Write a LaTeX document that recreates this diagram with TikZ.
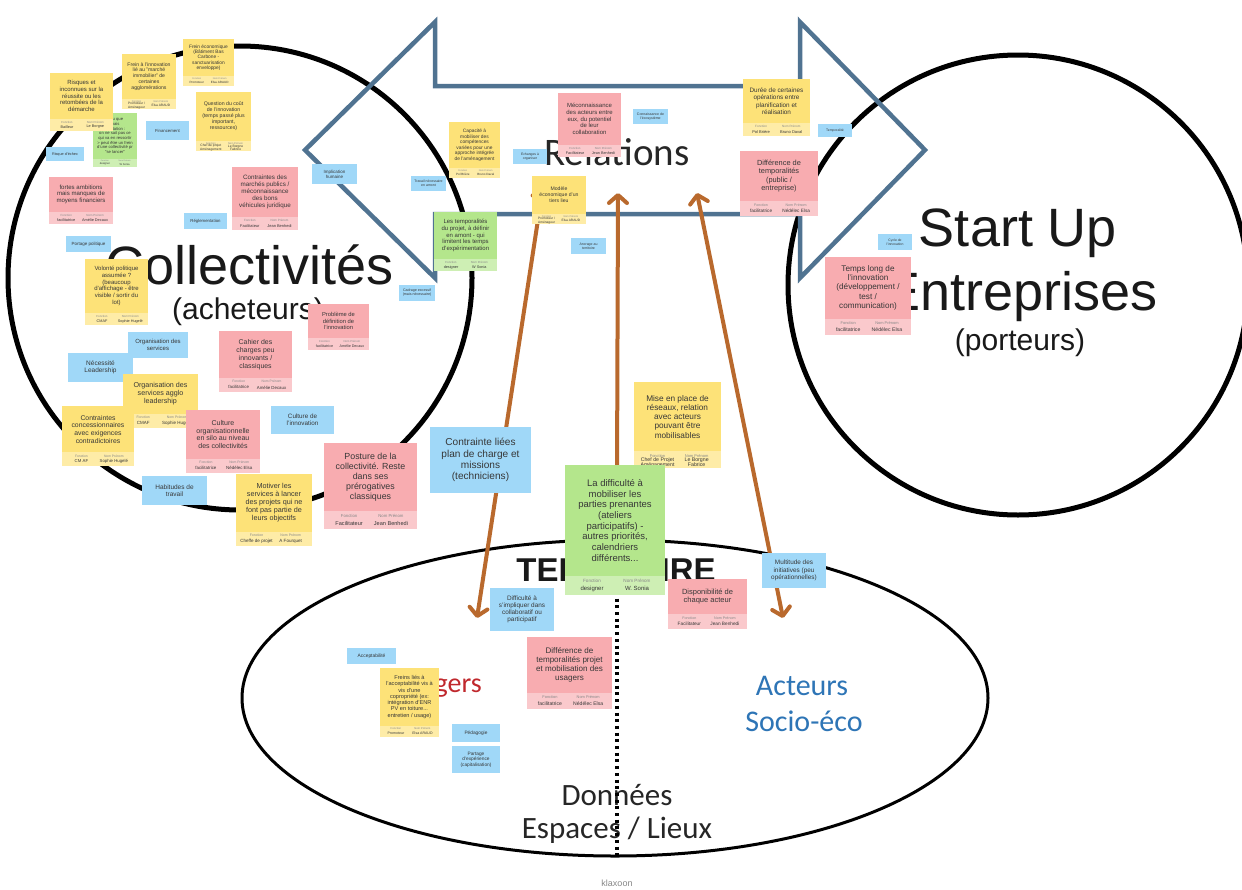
\documentclass[tikz,border=0pt]{standalone}
\usepackage{fontspec}
\setmainfont{Liberation Sans}
\newfontfamily\calibri{Carlito}
\usetikzlibrary{positioning}
\usetikzlibrary{shapes.geometric}
\usetikzlibrary{arrows.meta}

\definecolor{jaune}{RGB}{253,226,120}
\definecolor{rose}{RGB}{248,172,176}
\definecolor{vert}{RGB}{180,230,140}
\definecolor{bleu}{RGB}{160,216,248}
\definecolor{relcol}{RGB}{80,115,145}
\definecolor{brun}{RGB}{185,105,45}
\definecolor{texte}{RGB}{55,55,55}
\definecolor{gris}{RGB}{135,135,135}
\definecolor{rouge}{RGB}{192,40,45}
\definecolor{bleuact}{RGB}{46,117,182}

% post-it : nom, x, y, largeur, hauteur, couleur, texte, fonction, nom
\newcommand{\postit}[9]{%
  \pgfmathsetmacro\ptfs{0.095*#4}\pgfmathsetmacro\ptbs{1.12*\ptfs}%
  \pgfmathsetmacro\ptph{0.19*#4}%
  \pgfmathsetmacro\ptx{#2+0.5*#4}\pgfmathsetmacro\pty{#3+0.5*(#5-\ptph)}%
  \pgfmathsetmacro\ptxa{#2+0.27*#4}\pgfmathsetmacro\ptxb{#2+0.72*#4}%
  \pgfmathsetmacro\ptya{#3+#5-0.74*\ptph}\pgfmathsetmacro\ptyb{#3+#5-0.33*\ptph}%
  \pgfmathsetmacro\ptfl{0.046*#4}\pgfmathsetmacro\ptfv{0.06*#4}%
  \node[postit,fill=#6,minimum width=#4pt,minimum height=#5pt](#1) at (#2,#3){};
  \fill[#6!65!white] (#1.south west) rectangle ([yshift=\ptph pt]#1.south east);
  \node[postittexte,font=\fontsize{\ptfs}{\ptbs}\selectfont](#1-t) at (\ptx,\pty){#7};
  \node[libelle,font=\fontsize{\ptfl}{\ptfl}\selectfont](#1-f) at (\ptxa,\ptya){Fonction};
  \node[libelle,font=\fontsize{\ptfl}{\ptfl}\selectfont](#1-n) at (\ptxb,\ptya){Nom Prénom};
  \node[valeur,font=\fontsize{\ptfv}{\ptfv}\selectfont](#1-fv) at (\ptxa,\ptyb){#8};
  \node[valeur,font=\fontsize{\ptfv}{\ptfv}\selectfont](#1-nv) at (\ptxb,\ptyb){#9};
}
% etiquette bleue : nom, x, y, largeur, hauteur, texte
\newcommand{\etiquette}[6]{%
  \pgfmathsetmacro\ptfs{0.1*#4}\pgfmathsetmacro\ptbs{1.12*\ptfs}%
  \node[etiq,minimum width=#4pt,minimum height=#5pt,font=\fontsize{\ptfs}{\ptbs}\selectfont](#1) at (#2,#3){#6};
}

\begin{document}
\begin{tikzpicture}[x=1pt,y=-1pt,
>={Straight Barb[length=8pt,width=18pt,round]},
contour/.style={draw=relcol,line width=4.5pt,line join=miter},
bulle/.style={draw=black,line width=5pt,circle,inner sep=0pt},
fleche/.style={draw=brun,line width=4pt},
pointille/.style={draw=black,line width=3.5pt,dash pattern=on 3pt off 3.7pt},
titre/.style={font=\fontsize{54}{60}\selectfont,text=black!90,inner sep=0pt},
soustitre/.style={font=\fontsize{30}{34}\selectfont,text=black!90,inner sep=0pt},
calib/.style={font=\calibri\fontsize{#1}{#1}\selectfont,text=black!85,inner sep=0pt},
postit/.style={anchor=north west,inner sep=0pt,outer sep=0pt},
postittexte/.style={align=center,text=texte,inner sep=0pt},
libelle/.style={text=gris,inner sep=0pt},
valeur/.style={text=texte,align=center,inner sep=0pt},
etiq/.style={anchor=north west,fill=bleu,align=center,text=texte,inner sep=1pt,outer sep=0pt}
]
\fill[white] (0,0) rectangle (1242,889);
\useasboundingbox (0,0) rectangle (1242,889);
%--
\node[bulle,minimum size=464pt](collectivites) at (240,278){};
\node[bulle,minimum size=460pt](startup) at (1018,285){};
\node[draw,ellipse,line width=3pt,inner sep=0pt,minimum width=746pt,minimum height=316pt](territoire) at (615,698){};
\draw[contour] (305,150) -- (435,22) -- (435,86) -- (800,86) -- (800,22) -- (925,150)
  -- (800,278) -- (800,214) -- (435,214) -- (435,278) -- cycle;
%--
\node[titre](t-coll) at (250,265){Collectivités};
\node[soustitre](t-ach) at (248,312){(acheteurs)};
\node[titre](t-start) at (1018,233){Start Up};
\node[titre](t-entr) at (1021,297){Entreprises};
\node[soustitre](t-port) at (1020,343){(porteurs)};
\node[calib=39](t-rel) at (617,152){Relations};
\node[font=\fontsize{33}{36}\selectfont\bfseries,text=black!90](t-terr) at (616,570){TERRITOIRE};
\node[calib=28,text=rouge](t-usa) at (437,686){Usagers};
\node[calib=30,text=bleuact](t-act) at (802,686){Acteurs};
\node[calib=30,text=bleuact](t-soc) at (804,721){Socio-éco};
\node[calib=31](t-don) at (617,795){Données};
\node[calib=31](t-esp) at (617,830){Espaces / Lieux};
\node[font=\fontsize{9}{9}\selectfont,text=gris](klaxoon) at (617,883){klaxoon};
%--
\coordinate (pt-haut) at (617,545); \coordinate (pt-bas) at (617,855);
\draw[pointille] (pt-haut) -- (pt-bas);
\coordinate (fa-haut) at (543,187); \coordinate (fa-bas) at (477,618);
\coordinate (fb-haut) at (618,193); \coordinate (fb-bas) at (617,480);
\coordinate (fc-haut) at (697,193); \coordinate (fc-bas) at (783,618);
\draw[fleche,<->] (fa-haut) -- (fa-bas);
\draw[fleche,->] (fb-bas) -- (fb-haut);
\draw[fleche,<->] (fc-haut) -- (fc-bas);
%---- Collectivites
\postit{seLancer}{93}{113}{44}{54}{vert}{tenu que\\mais\\mentation :\\on ne sait pas ce\\qui va en ressortir\\> peut être un frein\\d'une collectivité pr\\"se lancer"}{designer}{W Sonia}
\postit{risques}{50}{73}{63}{58}{jaune}{Risques et\\inconnues sur la\\réussite ou les\\retombées de la\\démarche}{Bailleur}{Le Borgne}
\postit{freinImmo}{122}{54}{54}{55}{jaune}{Frein à l'innovation\\lié au "marché\\immobilier" de\\certaines\\agglomérations}{Promoteur /\\Aménageur}{Elsa ARAUD}
\postit{freinEco}{183}{39}{51}{47}{jaune}{Frein économique\\(Bâtiment Bas\\Carbone -\\sanctuarisation\\enveloppe)}{Promoteur}{Elsa ARAUD}
\postit{cout}{196}{92}{55}{59}{jaune}{Question du coût\\de l'innovation\\(temps passé plus\\important,\\ressources)}{Chef de projet\\Aménagement}{Le Borgne\\Fabrice}
\etiquette{financement}{146}{121}{43}{19}{Financement}
\etiquette{echec}{46}{147}{38}{14}{Risque d'échec}
\postit{ambitions}{49}{177}{64}{47}{rose}{fortes ambitions\\mais manques de\\moyens financiers}{facilitatrice}{Amélie Decaux}
\etiquette{reglementation}{184}{213}{43}{16}{Réglementation}
\postit{marches}{232}{167}{66}{63}{rose}{Contraintes des\\marchés publics /\\méconnaissance\\des bons\\véhicules juridique}{Facilitateur}{Jean Benhedi}
\etiquette{implication}{312}{164}{45}{20}{Implication\\humaine}
\etiquette{portage}{66}{236}{45}{16}{Portage politique}
\postit{volonte}{85}{259}{63}{66}{jaune}{Volonté politique\\assumée ?\\(beaucoup\\d'affichage - être\\visible / sortir du\\lot)}{CMAF}{Sophie Hugelé}
\etiquette{orgaServices}{128}{332}{60}{26}{Organisation des\\services}
\etiquette{leadership}{68}{353}{65}{29}{Nécessité\\Leadership}
\postit{orgaAgglo}{123}{374}{75}{54}{jaune}{Organisation des\\services agglo\\leadership}{CMAF}{Sophie Hugelé}
\postit{concession}{62}{406}{72}{60}{jaune}{Contraintes\\concessionnaires\\avec exigences\\contradictoires}{CM AF}{Sophie Hugelé}
\postit{silo}{186}{410}{74}{63}{rose}{Culture\\organisationnelle\\en silo au niveau\\des collectivités}{facilitatrice}{Nédélec Elsa}
\postit{cahier}{219}{331}{73}{61}{rose}{Cahier des\\charges peu\\innovants /\\classiques}{facilitatrice}{Amélie Decaux}
\postit{definition}{308}{304}{61}{46}{rose}{Problème de\\définition de\\l'innovation}{facilitatrice}{Amélie Decaux}
\etiquette{cultureInnov}{271}{406}{63}{28}{Culture de\\l'innovation}
\postit{posture}{324}{443}{93}{86}{rose}{Posture de la\\collectivité. Reste\\dans ses\\prérogatives\\classiques}{Facilitateur}{Jean Benhedi}
\postit{motiver}{236}{474}{76}{72}{jaune}{Motiver les\\services à lancer\\des projets qui ne\\font pas partie de\\leurs objectifs}{Cheffe de projet}{A Fourquet}
\etiquette{habitudes}{142}{476}{65}{29}{Habitudes de\\travail}
%---- Relations
\etiquette{travail}{411}{176}{35}{15}{Travail nécessaire\\en amont}
\etiquette{cadrage}{399}{285}{36}{16}{Cadrage excessif\\(mais nécessaire)}
\postit{capacite}{449}{122}{51}{56}{jaune}{Capacité à\\mobiliser des\\compétences\\variées pour une\\approche intégrée\\de l'aménagement}{Pol Brière}{Bruno Daval}
\etiquette{echanges}{513}{149}{34}{15}{Echanges à\\organiser}
\postit{meconnaissance}{558}{93}{63}{64}{rose}{Méconnaissance\\des acteurs entre\\eux, du potentiel\\de leur\\collaboration}{Facilitateur}{Jean Benhedi}
\etiquette{ecosysteme}{633}{109}{35}{15}{Connaissance de\\l'écosystème}
\postit{modele}{532}{176}{54}{48}{jaune}{Modèle\\économique d'un\\tiers lieu}{Promoteur /\\Aménageur}{Elsa ARAUD}
\postit{temporalites}{434}{212}{63}{59}{vert}{Les temporalités\\du projet, à définir\\en amont - qui\\limitent les temps\\d'expérimentation}{designer}{W Sonia}
\etiquette{ancrage}{571}{238}{35}{16}{Ancrage au\\territoire}
\postit{duree}{743}{79}{67}{57}{jaune}{Durée de certaines\\opérations entre\\planification et\\réalisation}{Pol Brière}{Bruno Daval}
\etiquette{temporalite}{818}{124}{34}{13}{Temporalité}
\postit{diffPublic}{740}{151}{78}{65}{rose}{Différence de\\temporalités\\(public /\\entreprise)}{facilitatrice}{Nédélec Elsa}
%---- Start Up
\etiquette{cycle}{878}{234}{34}{16}{Cycle de\\l'innovation}
\postit{tempsLong}{825}{257}{86}{78}{rose}{Temps long de\\l'innovation\\(développement /\\test /\\communication)}{facilitatrice}{Nédélec Elsa}
%---- Territoire
\etiquette{planCharge}{430}{427}{101}{66}{Contrainte liées\\plan de charge et\\missions\\(techniciens)}
\postit{reseaux}{634}{382}{87}{86}{jaune}{Mise en place de\\réseaux, relation\\avec acteurs\\pouvant être\\mobilisables}{Chef de Projet\\Aménagement}{Le Borgne\\Fabrice}
\postit{difficulte}{565}{465}{100}{130}{vert}{La difficulté à\\mobiliser les\\parties prenantes\\(ateliers\\participatifs) -\\autres priorités,\\calendriers\\différents...}{designer}{W. Sonia}
\etiquette{impliquer}{490}{588}{64}{43}{Difficulté à\\s'impliquer dans\\collaboratif ou\\participatif}
\postit{disponibilite}{668}{579}{79}{50}{rose}{Disponibilité de\\chaque acteur}{Facilitateur}{Jean Benhedi}
\etiquette{multitude}{762}{553}{64}{35}{Multitude des\\initiatives (peu\\opérationnelles)}
\etiquette{acceptabilite}{347}{648}{49}{16}{Acceptabilité}
\postit{copro}{380}{668}{59}{69}{jaune}{Freins liés à\\l'acceptabilité vis à\\vis d'une\\copropriété (ex:\\intégration d'ENR\\PV en toiture...\\entretien / usage)}{Promoteur}{Elsa ARAUD}
\postit{diffUsagers}{527}{637}{85}{72}{rose}{Différence de\\temporalités projet\\et mobilisation des\\usagers}{facilitatrice}{Nédélec Elsa}
\etiquette{pedagogie}{452}{724}{48}{18}{Pédagogie}
\etiquette{partage}{452}{746}{48}{27}{Partage\\d'expérience\\(capitalisation)}
\end{tikzpicture}
\end{document}
